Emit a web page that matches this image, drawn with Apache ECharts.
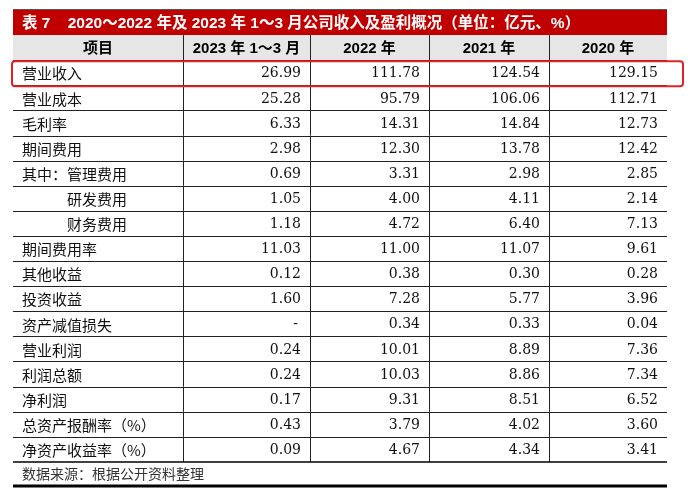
<!DOCTYPE html>
<html><head><meta charset="utf-8">
<script src="https://cdn.jsdelivr.net/npm/echarts@6/dist/echarts.min.js"></script>
<style>html,body{margin:0;padding:0;background:#fff}#c{width:700px;height:499px}</style>
</head><body><div id="c"></div>
<script>
const titleText = '表 7    2020～2022 年及 2023 年 1～3 月公司收入及盈利概况（单位：亿元、%）';
const headers = ['项目', '2023 年 1～3 月', '2022 年', '2021 年', '2020 年'];
const items = ['营业收入', '营业成本', '毛利率', '期间费用', '其中：管理费用', '\u3000\u3000\u3000研发费用', '\u3000\u3000\u3000财务费用', '期间费用率', '其他收益', '投资收益', '资产减值损失', '营业利润', '利润总额', '净利润', '总资产报酬率（%）', '净资产收益率（%）'];
const v2023q1 = [26.99, 25.28, 6.33, 2.98, 0.69, 1.05, 1.18, 11.03, 0.12, 1.60, null, 0.24, 0.24, 0.17, 0.43, 0.09];
const v2022 = [111.78, 95.79, 14.31, 12.30, 3.31, 4.00, 4.72, 11.00, 0.38, 7.28, 0.34, 10.01, 10.03, 9.31, 3.79, 4.67];
const v2021 = [124.54, 106.06, 14.84, 13.78, 2.98, 4.11, 6.40, 11.07, 0.30, 5.77, 0.33, 8.89, 8.86, 8.51, 4.02, 4.34];
const v2020 = [129.15, 112.71, 12.73, 12.42, 2.85, 2.14, 7.13, 9.61, 0.28, 3.96, 0.04, 7.36, 7.34, 6.52, 3.60, 3.41];
const sourceText = '数据来源：根据公开资料整理';
const highlightRow = 0;

const colWidths = [170, 127, 119, 120, 118];
const edges = colWidths.reduce((a, w) => { a.push(a[a.length - 1] + w); return a; }, [0]);
const totalW = edges[edges.length - 1];
const valueCols = [v2023q1, v2022, v2021, v2020];
const nRows = items.length;

// row positions: title -1, header 0, data rows 1..n, footer n+1
const rowData = [[-1, 0], [0, 1]];
items.forEach((_, i) => rowData.push([i + 1, 2]));
rowData.push([nRows + 1, 3]);

const cjk = "'Noto Sans CJK SC'";
const latinBold = "'Liberation Sans','Noto Sans CJK SC'";
const numFont = "'DejaVu Serif'";

function snap(v) { return Math.round(v) + 0.5; }

function renderItem(params, api) {
  const y = api.value(0);
  const kind = api.value(1);
  const p0 = api.coord([0, y]);
  const p1 = api.coord([totalW, y + 1]);
  const x0 = p0[0], y0 = p0[1], x1 = p1[0], y1 = p1[1];
  const cy = (y0 + y1) / 2;
  const ch = [];
  const ex = edges.map(e => api.coord([e, y])[0]);
  if (kind === 0) {
    ch.push({ type: 'rect', shape: { x: x0, y: y0, width: x1 - x0, height: y1 - y0 }, style: { fill: '#C00000' } });
    ch.push({ type: 'line', shape: { x1: x0, y1: Math.round(y0) - 0.5, x2: x1, y2: Math.round(y0) - 0.5 }, style: { stroke: '#555', lineWidth: 1 } });
    ch.push({ type: 'text', x: x0 + 9, y: cy + 1, style: { text: titleText, fill: '#fff', font: 'bold 15.5px ' + latinBold, textAlign: 'left', textVerticalAlign: 'middle' } });
  } else if (kind === 1) {
    ch.push({ type: 'rect', shape: { x: x0, y: y0, width: x1 - x0, height: y1 - y0 }, style: { fill: '#E7E6E6' } });
    headers.forEach((h, c) => {
      ch.push({ type: 'text', x: (ex[c] + ex[c + 1]) / 2, y: cy + 1, style: { text: h, fill: '#000', font: 'bold 15px ' + latinBold, textAlign: 'center', textVerticalAlign: 'middle' } });
    });
    for (let c = 1; c < ex.length - 1; c++) {
      ch.push({ type: 'line', shape: { x1: snap(ex[c]), y1: y0, x2: snap(ex[c]), y2: y1 }, style: { stroke: '#222', lineWidth: 1 } });
    }
    ch.push({ type: 'line', shape: { x1: x0, y1: snap(y1), x2: x1, y2: snap(y1) }, style: { stroke: '#222', lineWidth: 1 } });
  } else if (kind === 2) {
    const i = y - 1;
    ch.push({ type: 'text', x: x0 + 9, y: cy + 1, style: { text: items[i], fill: '#111', font: '15px ' + cjk, textAlign: 'left', textVerticalAlign: 'middle' } });
    valueCols.forEach((col, c) => {
      const v = col[i];
      ch.push({ type: 'text', x: ex[c + 2] - (v == null ? 12 : 9), y: cy + 1, style: { text: v == null ? '-' : v.toFixed(2), fill: '#111', font: '14px ' + numFont, textAlign: 'right', textVerticalAlign: 'middle' } });
    });
    for (let c = 1; c < ex.length - 1; c++) {
      ch.push({ type: 'line', shape: { x1: snap(ex[c]), y1: y0, x2: snap(ex[c]), y2: y1 }, style: { stroke: '#222', lineWidth: 1 } });
    }
    const last = i === nRows - 1;
    ch.push({ type: 'line', shape: { x1: x0, y1: last ? Math.round(y1) : snap(y1), x2: x1, y2: last ? Math.round(y1) : snap(y1) }, style: { stroke: last ? '#000' : '#222', lineWidth: last ? 1.5 : 1 } });
    if (i === highlightRow) {
      ch.push({ type: 'rect', shape: { x: x0 - 1, y: y0 + 1, width: x1 - x0 + 17, height: y1 - y0, r: 3 }, style: { fill: 'none', stroke: '#E02424', lineWidth: 2 }, z2: 10 });
    }
  } else {
    ch.push({ type: 'text', x: x0 + 9, y: cy - 1, style: { text: sourceText, fill: '#333', font: '14px ' + cjk, textAlign: 'left', textVerticalAlign: 'middle' } });
    ch.push({ type: 'line', shape: { x1: x0, y1: y1 - 1, x2: x1, y2: y1 - 1 }, style: { stroke: '#000', lineWidth: 3 } });
  }
  return { type: 'group', children: ch };
}

const chart = echarts.init(document.getElementById('c'), null, { renderer: 'canvas' });
chart.setOption({
  animation: false,
  backgroundColor: '#fff',
  grid: { left: 13, right: 33, top: 10, bottom: 12 },
  xAxis: { type: 'value', min: 0, max: totalW, show: false },
  yAxis: { type: 'value', min: -1, max: nRows + 2, inverse: true, show: false },
  series: [{ type: 'custom', renderItem: renderItem, data: rowData, clip: false }]
});
</script></body></html>
